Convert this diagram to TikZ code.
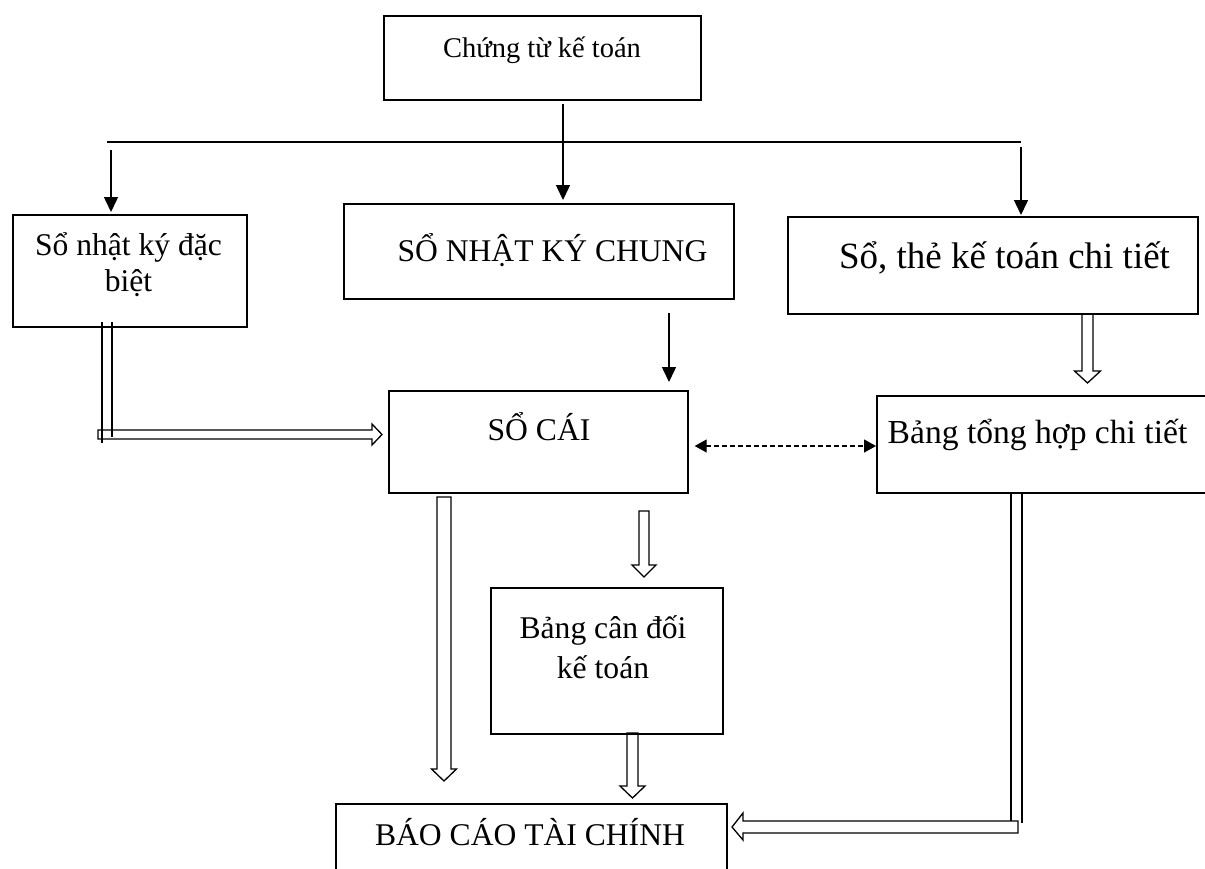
\documentclass[tikz,border=0pt]{standalone}
\usepackage{fontspec}
\setmainfont{Liberation Serif}
\usetikzlibrary{arrows.meta}
% hollow block arrow pointing down: centre x, half shaft, half head, top y, tip y
\newcommand{\blockdown}[5]{%
  \draw[blk] ({#1-#2},#4) -- ({#1-#2},{#5-12}) -- ({#1-#3},{#5-12}) -- (#1,#5)
    -- ({#1+#3},{#5-12}) -- ({#1+#2},{#5-12}) -- ({#1+#2},#4) -- cycle;}
\begin{document}
\begin{tikzpicture}[x=1pt,y=-1pt,
  box/.style={draw, line width=1.7pt, inner sep=0pt, anchor=north west},
  txt/.style={anchor=base, inner sep=0pt, font=\fontsize{31.6}{37}\selectfont},
  arr/.style={line width=1.5pt, -{Triangle[length=15pt,width=14pt]}},
  dasharr/.style={line width=1.2pt, dash pattern=on 5pt off 3pt,
    {Triangle[length=12pt,width=13pt]}-{Triangle[length=12pt,width=13pt]}},
  blk/.style={line width=1.3pt, line join=miter}]
\useasboundingbox (0,0) rectangle (1205,868);
\clip (0,0) rectangle (1205,868);

% boxes
\node[box, minimum width=317pt, minimum height=84pt]  (ct)    at (383,15)  {};
\node[box, minimum width=390pt, minimum height=95pt]  (snkc)  at (343,203) {};
\node[box, minimum width=234pt, minimum height=112pt] (sndb)  at (12,214)  {};
\node[box, minimum width=410pt, minimum height=97pt]  (stk)   at (787,216) {};
\node[box, minimum width=299pt, minimum height=102pt] (socai) at (388,390) {};
\node[box, minimum width=340pt, minimum height=97pt]  (bthct) at (876,395) {};
\node[box, minimum width=232pt, minimum height=146pt] (bcd)   at (490,587) {};
\node[box, minimum width=391pt, minimum height=90pt]  (bctc)  at (335,803) {};

% labels
\node[txt, font=\fontsize{28.5}{34}\selectfont] (ct-t) at (542,57) {Chứng từ kế toán};
\node[txt] (snkc-t)  at (552.5,261) {SỔ NHẬT KÝ CHUNG};
\node[txt] (sndb-t1) at (128.5,255) {Sổ nhật ký đặc};
\node[txt] (sndb-t2) at (128.5,291) {biệt};
\node[txt, font=\fontsize{37}{42}\selectfont] (stk-t) at (1004.5,268) {Sổ, thẻ kế toán chi tiết};
\node[txt] (socai-t) at (539,440)   {SỔ CÁI};
\node[txt, font=\fontsize{33.6}{39}\selectfont] (bthct-t) at (1037.5,443) {Bảng tổng hợp chi tiết};
\node[txt] (bcd-t1)  at (603,638)   {Bảng cân đối};
\node[txt] (bcd-t2)  at (603,678)   {kế toán};
\node[txt] (bctc-t)  at (530,845)   {BÁO CÁO TÀI CHÍNH};

% distribution bar under the source documents
\coordinate (hl) at (107,142);
\coordinate (hr) at (1021,142);
\draw[line width=1.5pt] (hl) -- (hr);

\coordinate (c1) at (563,104);
\draw[arr, shorten >=3pt] (c1) -- (c1 |- snkc.north);
\coordinate (c2) at (111,150);
\draw[arr, shorten >=2pt] (c2) -- (c2 |- sndb.north);
\coordinate (c3) at (1021,147);
\draw[arr, shorten >=1pt] (c3) -- (c3 |- stk.north);
\coordinate (c4) at (669,313);
\draw[arr, shorten >=8pt] (c4) -- (c4 |- socai.north);

% cross-check between ledger and detail summary
\coordinate (dy) at (0,446);
\draw[dasharr, shorten <=6pt] (socai.east |- dy) -- (bthct.west |- dy);

% special journal -> ledger (double line into block arrow)
\draw[blk] (102,322) -- (102,443);
\draw[blk] (112,322) -- (112,437);
\draw[blk] (98,430) -- (372,430) -- (372,424) -- (382,434.5) -- (372,445)
  -- (372,439) -- (98,439) -- cycle;

% detail summary -> financial statements
\draw[blk] (1011,493) -- (1011,821);
\draw[blk] (1022,493) -- (1022,823);
\draw[blk] (1018,821) -- (743,821) -- (743,813) -- (732,827) -- (743,840)
  -- (743,833) -- (1018,833) -- cycle;

% block arrows downward
\blockdown{444}{7}{12.5}{497}{781}
\blockdown{644}{5}{12}{511}{577}
\blockdown{632.5}{5.5}{12.5}{733}{798}
\blockdown{1087.5}{5.5}{13}{314}{383}
\end{tikzpicture}
\end{document}
